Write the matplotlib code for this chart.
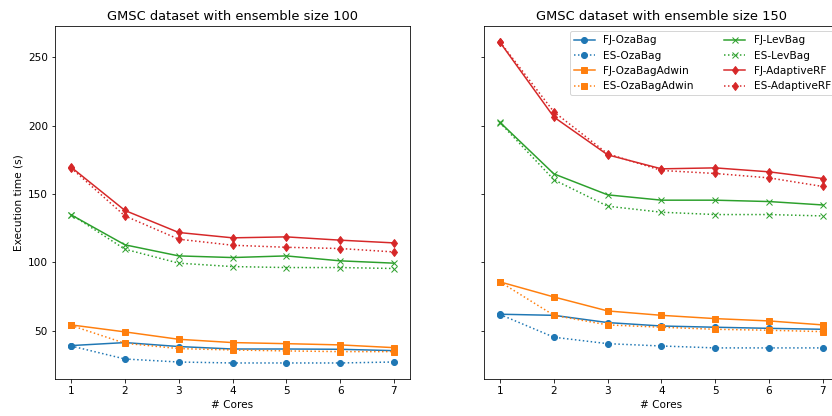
import numpy as np
import matplotlib
matplotlib.use("Agg")
import matplotlib.pyplot as plt

cores = [1, 2, 3, 4, 5, 6, 7]

# ensemble size 100
fj_ozabag_100 = [39.3, 41.5, 38.6, 36.8, 36.8, 36.6, 35.6]
es_ozabag_100 = [39.0, 29.5, 27.3, 26.6, 26.6, 26.6, 27.3]
fj_ozabagadwin_100 = [54.4, 49.3, 43.9, 41.5, 40.7, 39.8, 37.8]
es_ozabagadwin_100 = [54.0, 41.0, 37.1, 36.1, 35.4, 34.9, 34.9]
fj_levbag_100 = [134.8, 112.9, 104.8, 103.6, 104.8, 101.2, 99.5]
es_levbag_100 = [135.0, 109.7, 99.5, 97.0, 96.3, 96.3, 95.6]
fj_arf_100 = [169.6, 138.0, 121.9, 118.0, 118.7, 116.3, 114.3]
es_arf_100 = [169.0, 134.0, 117.0, 112.6, 111.1, 110.2, 107.7]

# ensemble size 150
fj_ozabag_150 = [62.2, 61.4, 56.1, 53.6, 52.7, 51.9, 51.2]
es_ozabag_150 = [62.0, 45.4, 40.7, 39.0, 37.6, 37.6, 37.6]
fj_ozabagadwin_150 = [85.8, 74.8, 64.6, 61.4, 59.0, 57.3, 54.4]
es_ozabagadwin_150 = [85.8, 61.4, 54.4, 52.7, 51.2, 50.5, 49.5]
fj_levbag_150 = [202.3, 164.7, 149.4, 145.5, 145.5, 144.5, 142.0]
es_levbag_150 = [202.0, 160.4, 141.1, 136.7, 135.0, 135.0, 134.0]
fj_arf_150 = [260.7, 206.2, 178.6, 168.4, 169.1, 166.2, 161.3]
es_arf_150 = [261.0, 210.0, 179.4, 167.2, 165.0, 161.8, 155.5]

algos = ["OzaBag", "OzaBagAdwin", "LevBag", "AdaptiveRF"]
markers = ["o", "s", "x", "d"]
colors = ["C0", "C1", "C2", "C3"]

data = {
    100: [(fj_ozabag_100, es_ozabag_100), (fj_ozabagadwin_100, es_ozabagadwin_100),
          (fj_levbag_100, es_levbag_100), (fj_arf_100, es_arf_100)],
    150: [(fj_ozabag_150, es_ozabag_150), (fj_ozabagadwin_150, es_ozabagadwin_150),
          (fj_levbag_150, es_levbag_150), (fj_arf_150, es_arf_150)],
}

plt.rcParams["font.size"] = 10.5

fig = plt.figure(figsize=(832 / 72, 416 / 72), dpi=72)
ax1 = fig.add_axes([0.0661, 0.0889, 0.4267, 0.8486])
ax2 = fig.add_axes([0.5817, 0.0889, 0.4267, 0.8486], sharey=ax1)

for ax, size in zip([ax1, ax2], [100, 150]):
    for name, m, c, (fj, es) in zip(algos, markers, colors, data[size]):
        ax.plot(cores, fj, marker=m, color=c, linestyle="-", label="FJ-" + name)
        ax.plot(cores, es, marker=m, color=c, linestyle=":", label="ES-" + name)
    ax.set_title(f"GMSC dataset with ensemble size {size}", fontsize=13)
    ax.set_xlabel("# Cores")
    ax.set_xticks(cores)

ax1.set_ylabel("Execution time (s)")
plt.setp(ax2.get_yticklabels(), visible=False)
ax2.legend(ncol=2, loc="upper right", columnspacing=2.9, fontsize=10.5,
           bbox_to_anchor=(1.004, 1.0))

fig.savefig("out.png", dpi=72)
